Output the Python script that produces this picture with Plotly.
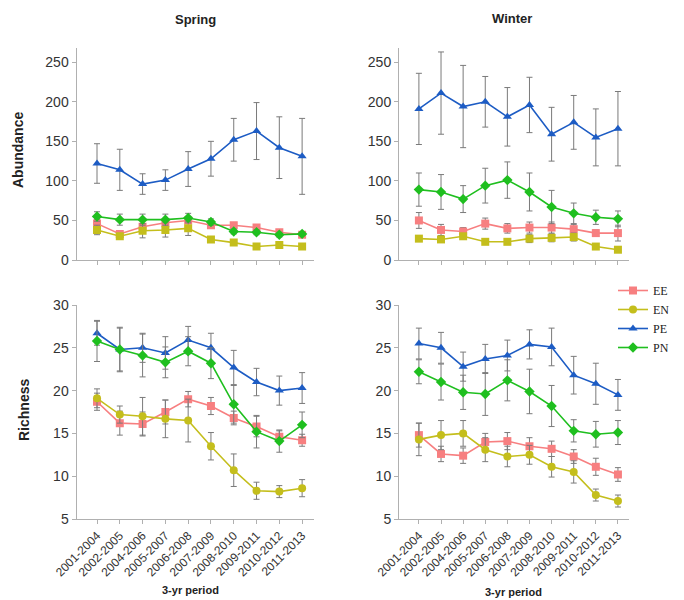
import plotly.graph_objects as go

periods = ["2001-2004", "2002-2005", "2004-2006", "2005-2007", "2006-2008",
           "2007-2009", "2008-2010", "2009-2011", "2010-2012", "2011-2013"]
groups = ["EE", "EN", "PE", "PN"]

# Spring abundance
sp_ab_EE = [46, 33, 42, 47, 50, 44, 44, 41, 35, 32]
sp_ab_EE_err = [5, 3, 4, 4, 4, 3, 3, 3, 3, 2]
sp_ab_EN = [38, 30, 37, 38, 40, 26, 22, 17, 19, 17]
sp_ab_EN_err = [6, 3, 9, 9, 9, 3, 3, 2, 2, 2]
sp_ab_PE = [122, 114, 96, 101, 115, 128, 152, 163, 142, 131]
sp_ab_PE_err = [25, 26, 13, 13, 22, 22, 27, 36, 39, 48]
sp_ab_PN = [55, 51, 51, 51, 53, 48, 36, 35, 32, 33]
sp_ab_PN_err = [6, 7, 7, 7, 6, 4, 3, 3, 3, 2]

# Winter abundance
wi_ab_EE = [50, 38, 36, 46, 40, 41, 41, 39, 34, 34]
wi_ab_EE_err = [10, 7, 5, 7, 6, 7, 7, 6, 4, 10]
wi_ab_EN = [27, 26, 30, 23, 23, 27, 28, 29, 17, 13]
wi_ab_EN_err = [3, 3, 3, 3, 3, 5, 5, 5, 3, 3]
wi_ab_PE = [191, 211, 194, 200, 181, 196, 159, 174, 155, 166]
wi_ab_PE_err = [45, 52, 52, 32, 37, 35, 34, 34, 36, 47]
wi_ab_PN = [89, 86, 77, 94, 101, 86, 67, 59, 54, 52]
wi_ab_PN_err = [21, 22, 17, 22, 23, 24, 21, 13, 9, 10]

# Spring richness
sp_ri_EE = [18.7, 16.2, 16.1, 17.5, 19.0, 18.2, 16.8, 15.8, 14.6, 14.2]
sp_ri_EE_err = [1.0, 1.4, 1.4, 1.4, 0.9, 1.0, 0.8, 1.2, 0.7, 0.7]
sp_ri_EN = [19.1, 17.2, 17.0, 16.7, 16.5, 13.5, 10.7, 8.3, 8.2, 8.6]
sp_ri_EN_err = [1.1, 1.0, 2.2, 2.2, 2.5, 1.6, 1.9, 1.0, 0.7, 1.0]
sp_ri_PE = [26.7, 24.8, 25.0, 24.4, 25.9, 25.0, 22.7, 21.0, 20.0, 20.3]
sp_ri_PE_err = [1.4, 2.6, 1.7, 1.9, 1.6, 1.7, 2.0, 1.6, 1.7, 1.8]
sp_ri_PN = [25.8, 24.8, 24.1, 23.3, 24.6, 23.2, 18.4, 15.2, 14.1, 16.0]
sp_ri_PN_err = [2.4, 2.5, 2.5, 1.8, 1.7, 1.8, 2.2, 1.9, 1.3, 1.5]

# Winter richness
wi_ri_EE = [14.8, 12.6, 12.4, 14.0, 14.1, 13.5, 13.2, 12.3, 11.1, 10.2]
wi_ri_EE_err = [1.4, 0.9, 0.9, 1.0, 1.0, 1.0, 0.9, 0.8, 1.0, 0.8]
wi_ri_EN = [14.3, 14.8, 15.0, 13.1, 12.3, 12.5, 11.1, 10.5, 7.8, 7.1]
wi_ri_EN_err = [1.9, 1.7, 1.5, 1.4, 1.2, 1.1, 1.2, 1.3, 0.7, 0.7]
wi_ri_PE = [25.5, 25.0, 22.8, 23.7, 24.1, 25.4, 25.1, 21.8, 20.8, 19.5]
wi_ri_PE_err = [1.8, 1.8, 1.7, 1.7, 1.8, 1.7, 2.2, 2.2, 2.4, 1.8]
wi_ri_PN = [22.2, 21.0, 19.8, 19.6, 21.2, 19.9, 18.2, 15.3, 14.9, 15.1]
wi_ri_PN_err = [1.4, 2.1, 2.0, 2.5, 2.4, 2.6, 2.4, 1.3, 1.5, 1.4]

colors = {"EE": "#F77F80", "EN": "#C4BE1C", "PE": "#1D5CC4", "PN": "#1FBF1F"}
sym_ab = {"EE": "square", "EN": "square", "PE": "triangle-up", "PN": "diamond"}
sym_ri = {"EE": "square", "EN": "circle", "PE": "triangle-up", "PN": "diamond"}

panels = [
    ("x", "y", {"EE": (sp_ab_EE, sp_ab_EE_err), "EN": (sp_ab_EN, sp_ab_EN_err),
                "PE": (sp_ab_PE, sp_ab_PE_err), "PN": (sp_ab_PN, sp_ab_PN_err)}, sym_ab, False),
    ("x2", "y2", {"EE": (wi_ab_EE, wi_ab_EE_err), "EN": (wi_ab_EN, wi_ab_EN_err),
                  "PE": (wi_ab_PE, wi_ab_PE_err), "PN": (wi_ab_PN, wi_ab_PN_err)}, sym_ab, False),
    ("x3", "y3", {"EE": (sp_ri_EE, sp_ri_EE_err), "EN": (sp_ri_EN, sp_ri_EN_err),
                  "PE": (sp_ri_PE, sp_ri_PE_err), "PN": (sp_ri_PN, sp_ri_PN_err)}, sym_ri, False),
    ("x4", "y4", {"EE": (wi_ri_EE, wi_ri_EE_err), "EN": (wi_ri_EN, wi_ri_EN_err),
                  "PE": (wi_ri_PE, wi_ri_PE_err), "PN": (wi_ri_PN, wi_ri_PN_err)}, sym_ri, True),
]

fig = go.Figure()
for xa, ya, data, syms, show in panels:
    for g in groups:
        vals, errs = data[g]
        fig.add_trace(go.Scatter(
            x=periods, y=vals, xaxis=xa, yaxis=ya, name=g,
            mode="lines+markers", showlegend=show,
            line=dict(color=colors[g], width=1.6),
            marker=dict(color=colors[g], symbol=syms[g], size=8),
            error_y=dict(type="data", array=errs, visible=True,
                         color="#7a7a7a", thickness=1, width=3),
        ))

W, H = 684, 600
def px(a, b):
    return [a / W, b / W]
def py(top, bottom):
    return [1 - bottom / H, 1 - top / H]

axis_common = dict(showline=True, linecolor="#b0b0b0", linewidth=1,
                   ticks="outside", tickcolor="#b0b0b0", ticklen=4,
                   showgrid=False, zeroline=False, automargin=False)
xcommon = dict(axis_common, type="category", range=[-0.9, 9.5],
               tickangle=-45, tickfont=dict(family="Liberation Sans, Arial", size=12, color="#333"))
ycommon = dict(axis_common, tickfont=dict(family="Liberation Sans, Arial", size=14, color="#333"))

fig.update_layout(
    template="none",
    width=W, height=H, margin=dict(l=0, r=0, t=0, b=0, pad=0, autoexpand=False),
    plot_bgcolor="white", paper_bgcolor="white",
    xaxis=dict(xcommon, domain=px(76.5, 313.5), anchor="y", showticklabels=False),
    yaxis=dict(ycommon, domain=py(48, 260), anchor="x", range=[0, 268], tickvals=[0, 50, 100, 150, 200, 250]),
    xaxis2=dict(xcommon, domain=px(399, 629), anchor="y2", showticklabels=False),
    yaxis2=dict(ycommon, domain=py(48, 260), anchor="x2", range=[0, 268], tickvals=[0, 50, 100, 150, 200, 250]),
    xaxis3=dict(xcommon, domain=px(76.5, 313.5), anchor="y3"),
    yaxis3=dict(ycommon, domain=py(305, 519), anchor="x3", range=[5, 30], tickvals=[5, 10, 15, 20, 25, 30]),
    xaxis4=dict(xcommon, domain=px(399, 629), anchor="y4"),
    yaxis4=dict(ycommon, domain=py(305, 519), anchor="x4", range=[5, 30], tickvals=[5, 10, 15, 20, 25, 30]),
    legend=dict(x=613 / W, y=1 - 276 / H, xanchor="left", yanchor="top",
                font=dict(family="Liberation Serif, Times New Roman", size=12, color="#222"),
                bgcolor="rgba(0,0,0,0)", tracegroupgap=0, itemwidth=30),
    font=dict(family="Liberation Sans, Arial"),
)

def ann(text, x, y, size, angle=0):
    fig.add_annotation(text=f"<b>{text}</b>", x=x / W, y=1 - y / H, xref="paper", yref="paper",
                       showarrow=False, textangle=angle,
                       font=dict(family="Liberation Sans, Arial", size=size, color="#222"),
                       xanchor="center", yanchor="middle")

ann("Spring", 195, 20, 13)
ann("Winter", 512, 19, 13)
ann("Abundance", 18, 150, 14, -90)
ann("Richness", 24, 410, 14, -90)
ann("3-yr period", 190, 590, 11)
ann("3-yr period", 513, 592, 11)

fig.write_html("out.html", config={"displayModeBar": False},
               post_script="document.body.style.margin='0px';document.body.style.overflow='hidden';")
